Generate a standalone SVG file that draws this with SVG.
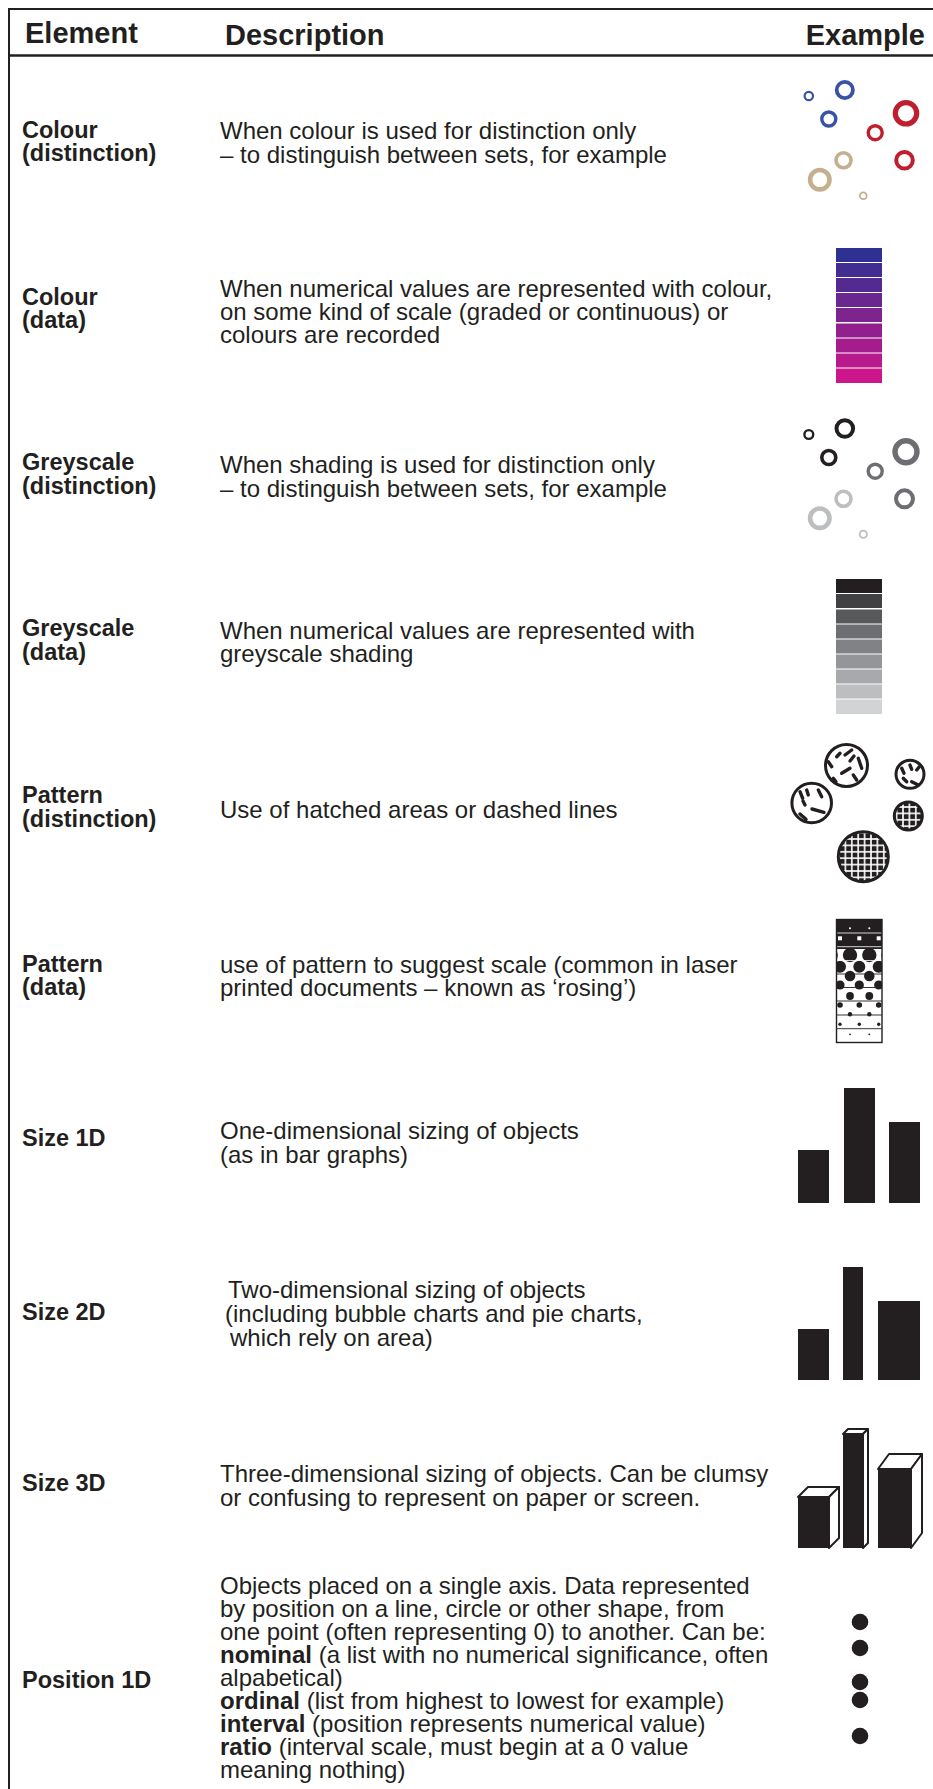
<svg xmlns="http://www.w3.org/2000/svg" width="933" height="1789" viewBox="0 0 933 1789">
  <style>
    .hd { font-family: "Liberation Sans", Arial, sans-serif; font-weight: bold; font-size: 29px; fill: #231f20; }
    .lb { font-family: "Liberation Sans", Arial, sans-serif; font-weight: bold; font-size: 23.5px; fill: #231f20; }
    .ds { font-family: "Liberation Sans", Arial, sans-serif; font-size: 24px; fill: #231f20; }
    .ds .b { font-weight: bold; }
    .rule { stroke: #231f20; fill: none; }
    .ring { fill: none; }
    .blue { stroke: #3953a4; }
    .red { stroke: #be1e2d; }
    .tan { stroke: #c4b08f; }
    .dark { stroke: #231f20; }
    .mid { stroke: #6d6e71; }
    .light { stroke: #bcbec0; }
    .solid { fill: #231f20; }
    .pcirc { fill: #fff; stroke: #231f20; stroke-width: 3; }
    .dash { stroke: #231f20; stroke-width: 3.4; stroke-linecap: round; }
    .box { fill: #fff; stroke: #231f20; stroke-width: 2; stroke-linejoin: round; }
  </style>
  <defs>
    <pattern id="mesh" x="0.6" y="0.6" width="6.4" height="6.4" patternUnits="userSpaceOnUse">
      <rect width="6.4" height="6.4" fill="#fff"/>
      <rect x="0.8" y="0.8" width="4.8" height="4.8" fill="#231f20"/>
    </pattern>
    <clipPath id="rosClip">
      <rect x="836" y="919" width="46" height="124"/>
    </clipPath>
  </defs>

  <rect width="933" height="1789" fill="#fff"/>

  <!-- table frame -->
  <g id="frame">
    <line class="rule" x1="8" y1="9" x2="933" y2="9" stroke-width="2"/>
    <line class="rule" x1="8" y1="55.5" x2="933" y2="55.5" stroke-width="2.6"/>
    <line class="rule" x1="9" y1="8" x2="9" y2="1789" stroke-width="2"/>
  </g>

  <!-- header -->
  <g id="header">
    <text class="hd" x="25" y="43">Element</text>
    <text class="hd" x="225" y="45">Description</text>
    <text class="hd" x="925" y="45" text-anchor="end">Example</text>
  </g>

  <!-- Colour (distinction) -->
  <g id="row-colour-distinction">
    <text class="lb" x="22" y="138">Colour</text>
    <text class="lb" x="22" y="161">(distinction)</text>
    <text class="ds" x="220" y="139">When colour is used for distinction only</text>
    <text class="ds" x="220" y="163">– to distinguish between sets, for example</text>
    <g>
      <circle class="ring blue" cx="808.8" cy="96" r="4.2" stroke-width="2.2"/>
      <circle class="ring blue" cx="844.8" cy="90" r="8.1" stroke-width="3.8"/>
      <circle class="ring blue" cx="828.8" cy="119" r="7" stroke-width="3.4"/>
      <circle class="ring red" cx="906" cy="113.3" r="10.7" stroke-width="5.2"/>
      <circle class="ring red" cx="875.2" cy="132.7" r="7" stroke-width="3.4"/>
      <circle class="ring red" cx="904.5" cy="160.3" r="8.3" stroke-width="4"/>
      <circle class="ring tan" cx="843.5" cy="160.3" r="7.5" stroke-width="3.6"/>
      <circle class="ring tan" cx="819.8" cy="179.7" r="9.7" stroke-width="4.6"/>
      <circle class="ring tan" cx="863.3" cy="195.7" r="3.4" stroke-width="1.8"/>
    </g>
  </g>

  <!-- Colour (data) -->
  <g id="row-colour-data">
    <text class="lb" x="22" y="305">Colour</text>
    <text class="lb" x="22" y="328">(data)</text>
    <text class="ds" x="220" y="297">When numerical values are represented with colour,</text>
    <text class="ds" x="220" y="320">on some kind of scale (graded or continuous) or</text>
    <text class="ds" x="220" y="343">colours are recorded</text>
    <g>
      <rect x="836" y="248" width="46" height="14" fill="#2e3192"/>
      <rect x="836" y="263" width="46" height="14" fill="#422e91"/>
      <rect x="836" y="278" width="46" height="14" fill="#552a90"/>
      <rect x="836" y="293" width="46" height="14" fill="#69278f"/>
      <rect x="836" y="308" width="46" height="14" fill="#7d248f"/>
      <rect x="836" y="323.5" width="46" height="14" fill="#91208e"/>
      <rect x="836" y="338.5" width="46" height="14" fill="#a51d8d"/>
      <rect x="836" y="353.5" width="46" height="14" fill="#b8198c"/>
      <rect x="836" y="368.5" width="46" height="14.5" fill="#cc168b"/>
    </g>
  </g>

  <!-- Greyscale (distinction) -->
  <g id="row-greyscale-distinction">
    <text class="lb" x="22" y="470">Greyscale</text>
    <text class="lb" x="22" y="494">(distinction)</text>
    <text class="ds" x="220" y="473">When shading is used for distinction only</text>
    <text class="ds" x="220" y="497">– to distinguish between sets, for example</text>
    <g transform="translate(0,338.5)">
      <circle class="ring dark" cx="808.8" cy="96" r="4.4" stroke-width="2.4"/>
      <circle class="ring dark" cx="844.8" cy="90" r="8.3" stroke-width="4"/>
      <circle class="ring dark" cx="828.8" cy="119" r="7" stroke-width="3.6"/>
      <circle class="ring mid" cx="906" cy="113.3" r="11" stroke-width="5.4"/>
      <circle class="ring mid" cx="875.2" cy="132.7" r="7" stroke-width="3.4"/>
      <circle class="ring mid" cx="904.5" cy="160.3" r="8.5" stroke-width="4"/>
      <circle class="ring light" cx="843.5" cy="160.3" r="7.5" stroke-width="3.6"/>
      <circle class="ring light" cx="819.8" cy="179.7" r="9.7" stroke-width="4.6"/>
      <circle class="ring light" cx="863.3" cy="195.7" r="3.6" stroke-width="1.8"/>
    </g>
  </g>

  <!-- Greyscale (data) -->
  <g id="row-greyscale-data">
    <text class="lb" x="22" y="636">Greyscale</text>
    <text class="lb" x="22" y="660">(data)</text>
    <text class="ds" x="220" y="639">When numerical values are represented with</text>
    <text class="ds" x="220" y="662">greyscale shading</text>
    <g>
      <rect x="836" y="579" width="46" height="14" fill="#231f20"/>
      <rect x="836" y="594" width="46" height="14" fill="#414042"/>
      <rect x="836" y="609.5" width="46" height="14" fill="#58595b"/>
      <rect x="836" y="624.5" width="46" height="14" fill="#6d6e71"/>
      <rect x="836" y="639.5" width="46" height="14" fill="#808285"/>
      <rect x="836" y="654.5" width="46" height="14" fill="#939598"/>
      <rect x="836" y="669.5" width="46" height="14" fill="#a7a9ac"/>
      <rect x="836" y="684.5" width="46" height="14" fill="#bcbec0"/>
      <rect x="836" y="699.5" width="46" height="14.5" fill="#d1d3d4"/>
    </g>
  </g>

  <!-- Pattern (distinction) -->
  <g id="row-pattern-distinction">
    <text class="lb" x="22" y="803">Pattern</text>
    <text class="lb" x="22" y="827">(distinction)</text>
    <text class="ds" x="220" y="818">Use of hatched areas or dashed lines</text>
    <g>
      <circle class="pcirc" cx="846.5" cy="765.5" r="21"/>
      <line class="dash" x1="836.7" y1="756.7" x2="840" y2="753.3"/>
      <line class="dash" x1="845" y1="755" x2="851.7" y2="750"/>
      <line class="dash" x1="850" y1="761" x2="854" y2="756"/>
      <line class="dash" x1="828.3" y1="761.7" x2="831.7" y2="766.7"/>
      <line class="dash" x1="841.7" y1="773.3" x2="850" y2="768.3"/>
      <line class="dash" x1="858.3" y1="758.3" x2="861.7" y2="768.3"/>
      <line class="dash" x1="833.3" y1="778.3" x2="836" y2="781.7"/>
      <line class="dash" x1="853.3" y1="775" x2="856.7" y2="780"/>

      <circle class="pcirc" cx="811.7" cy="803" r="19.8"/>
      <line class="dash" x1="800" y1="791.7" x2="802.7" y2="798.3"/>
      <line class="dash" x1="806.7" y1="790" x2="808.3" y2="795"/>
      <line class="dash" x1="818.3" y1="790" x2="821.7" y2="796.7"/>
      <line class="dash" x1="803" y1="801" x2="805" y2="805"/>
      <line class="dash" x1="812" y1="809" x2="824" y2="812.3"/>
      <line class="dash" x1="800" y1="814" x2="806" y2="819.3"/>

      <circle class="pcirc" cx="910" cy="774.3" r="14"/>
      <line class="dash" x1="901.7" y1="768.3" x2="904" y2="773.3"/>
      <line class="dash" x1="910" y1="765" x2="911.7" y2="769.3"/>
      <line class="dash" x1="916.7" y1="770" x2="919.3" y2="766.7"/>
      <line class="dash" x1="903.3" y1="778.3" x2="906.7" y2="781.7"/>
      <line class="dash" x1="911.7" y1="781.7" x2="918.3" y2="785"/>

      <circle cx="908.3" cy="816" r="14" fill="url(#mesh)" stroke="#231f20" stroke-width="3"/>
      <circle cx="863.3" cy="856.7" r="25" fill="url(#mesh)" stroke="#231f20" stroke-width="3"/>
    </g>
  </g>

  <!-- Pattern (data) -->
  <g id="row-pattern-data">
    <text class="lb" x="22" y="972">Pattern</text>
    <text class="lb" x="22" y="995">(data)</text>
    <text class="ds" x="220" y="973">use of pattern to suggest scale (common in laser</text>
    <text class="ds" x="220" y="996">printed documents – known as ‘rosing’)</text>
    <g clip-path="url(#rosClip)">
      <rect x="836" y="919" width="46" height="124" fill="#fff"/>
      <rect x="836" y="919" width="46" height="30" fill="#231f20"/>
      <circle cx="850" cy="928.3" r="1" fill="#fff"/>
      <circle cx="869.3" cy="928.3" r="1" fill="#fff"/>
      <rect x="838" y="936.3" width="4" height="4" fill="#fff"/>
      <rect x="857.3" y="936.3" width="4" height="4" fill="#fff"/>
      <rect x="876.7" y="936.3" width="4" height="4" fill="#fff"/>
      <g class="solid">
        <circle cx="850" cy="955" r="7.2"/>
        <circle cx="869.3" cy="955" r="7.2"/>
        <circle cx="830.7" cy="955" r="7.2"/>
        <circle cx="888.7" cy="955" r="7.2"/>
        <circle cx="840" cy="966.7" r="6"/>
        <circle cx="859.3" cy="966.7" r="6"/>
        <circle cx="878.7" cy="966.7" r="6"/>
        <circle cx="850" cy="976" r="5.3"/>
        <circle cx="869.3" cy="976" r="5.3"/>
        <circle cx="840" cy="985" r="4.6"/>
        <circle cx="859.3" cy="985" r="4.6"/>
        <circle cx="878.7" cy="985" r="4.6"/>
        <circle cx="850" cy="996" r="3.9"/>
        <circle cx="869.3" cy="996" r="3.9"/>
        <circle cx="840" cy="1005" r="2.8"/>
        <circle cx="859.3" cy="1005" r="2.8"/>
        <circle cx="878.7" cy="1005" r="2.8"/>
        <circle cx="850" cy="1014.3" r="2.2"/>
        <circle cx="869.3" cy="1014.3" r="2.2"/>
        <circle cx="840" cy="1024.3" r="1.7"/>
        <circle cx="859.3" cy="1024.3" r="1.7"/>
        <circle cx="878.7" cy="1024.3" r="1.7"/>
        <circle cx="850" cy="1034.3" r="0.9"/>
        <circle cx="869.3" cy="1034.3" r="0.9"/>
      </g>
      <g stroke="#fff" stroke-width="0.8">
        <line x1="836" y1="933" x2="882" y2="933"/>
        <line x1="836" y1="946.7" x2="882" y2="946.7"/>
        <line x1="836" y1="960.5" x2="882" y2="960.5"/>
      </g>
      <g stroke="#231f20" stroke-width="0.9">
        <line x1="836" y1="974" x2="882" y2="974"/>
        <line x1="836" y1="987.5" x2="882" y2="987.5"/>
        <line x1="836" y1="1001" x2="882" y2="1001"/>
        <line x1="836" y1="1015" x2="882" y2="1015"/>
        <line x1="836" y1="1028.7" x2="882" y2="1028.7"/>
      </g>
    </g>
    <rect x="836.5" y="919.5" width="45.5" height="123" fill="none" stroke="#231f20" stroke-width="1.4"/>
  </g>

  <!-- Size 1D -->
  <g id="row-size-1d">
    <text class="lb" x="22" y="1146">Size 1D</text>
    <text class="ds" x="220" y="1139">One-dimensional sizing of objects</text>
    <text class="ds" x="220" y="1163">(as in bar graphs)</text>
    <g class="solid">
      <rect x="798" y="1150" width="31" height="53"/>
      <rect x="844" y="1088" width="31" height="115"/>
      <rect x="889" y="1122" width="31" height="81"/>
    </g>
  </g>

  <!-- Size 2D -->
  <g id="row-size-2d">
    <text class="lb" x="22" y="1320">Size 2D</text>
    <text class="ds" x="228" y="1298">Two-dimensional sizing of objects</text>
    <text class="ds" x="225" y="1322">(including bubble charts and pie charts,</text>
    <text class="ds" x="230" y="1346">which rely on area)</text>
    <g class="solid">
      <rect x="798" y="1329" width="31" height="51"/>
      <rect x="843" y="1267" width="20" height="113"/>
      <rect x="878" y="1301" width="42" height="79"/>
    </g>
  </g>

  <!-- Size 3D -->
  <g id="row-size-3d">
    <text class="lb" x="22" y="1491">Size 3D</text>
    <text class="ds" x="220" y="1482">Three-dimensional sizing of objects. Can be clumsy</text>
    <text class="ds" x="220" y="1506">or confusing to represent on paper or screen.</text>
    <g>
      <!-- short box -->
      <polygon class="box" points="798,1497 808,1487 839,1487 829,1497"/>
      <polygon class="box" points="829,1497 839,1487 839,1538 829,1548"/>
      <rect class="solid" x="798" y="1497" width="31" height="51"/>
      <!-- tall box -->
      <polygon class="box" points="843,1434 848,1429 868,1429 863,1434"/>
      <polygon class="box" points="863,1434 868,1429 868,1543 863,1548"/>
      <rect class="solid" x="843" y="1434" width="20" height="114"/>
      <!-- wide box -->
      <polygon class="box" points="878,1469 889,1454 922,1454 911,1469"/>
      <polygon class="box" points="911,1469 922,1454 922,1533 911,1548"/>
      <rect class="solid" x="878" y="1469" width="33" height="79"/>
    </g>
  </g>

  <!-- Position 1D -->
  <g id="row-position-1d">
    <text class="lb" x="22" y="1688">Position 1D</text>
    <text class="ds" x="220" y="1594">Objects placed on a single axis. Data represented</text>
    <text class="ds" x="220" y="1617">by position on a line, circle or other shape, from</text>
    <text class="ds" x="220" y="1640">one point (often representing 0) to another. Can be:</text>
    <text class="ds" x="220" y="1663"><tspan class="b">nominal</tspan> (a list with no numerical significance, often</text>
    <text class="ds" x="220" y="1686">alpabetical)</text>
    <text class="ds" x="220" y="1709"><tspan class="b">ordinal</tspan> (list from highest to lowest for example)</text>
    <text class="ds" x="220" y="1732"><tspan class="b">interval</tspan> (position represents numerical value)</text>
    <text class="ds" x="220" y="1755"><tspan class="b">ratio</tspan> (interval scale, must begin at a 0 value</text>
    <text class="ds" x="220" y="1778">meaning nothing)</text>
    <g class="solid">
      <circle cx="860" cy="1622" r="8.3"/>
      <circle cx="860" cy="1648" r="8.3"/>
      <circle cx="860" cy="1682" r="8.3"/>
      <circle cx="860" cy="1700" r="8.3"/>
      <circle cx="860" cy="1736" r="8.3"/>
    </g>
  </g>
</svg>
